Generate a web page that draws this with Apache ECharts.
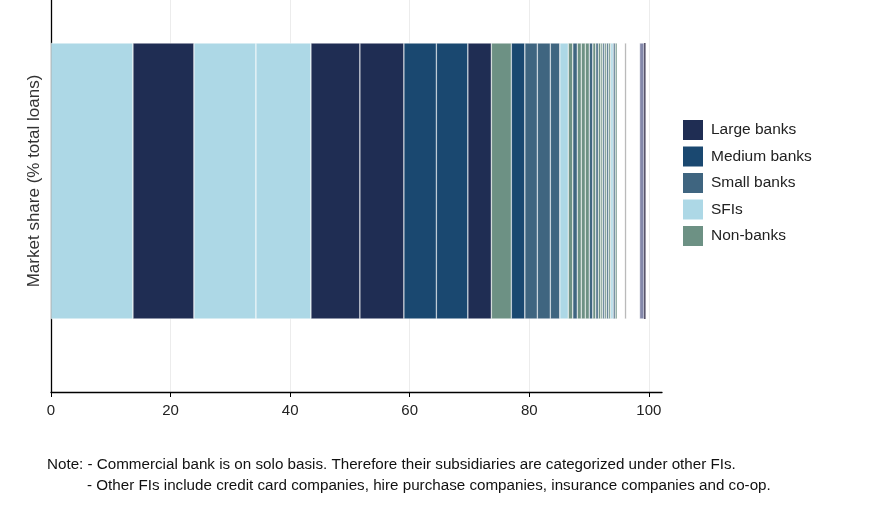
<!DOCTYPE html>
<html>
<head>
<meta charset="utf-8">
<script src="https://cdn.jsdelivr.net/npm/echarts@6/dist/echarts.min.js"></script>
<style>
html,body{margin:0;padding:0;background:#fff;}
#chart{width:888px;height:524px;}
</style>
</head>
<body>
<div id="chart"></div>
<script>
const categories = ['Market share'];
const legendNames = ['Large banks', 'Medium banks', 'Small banks', 'SFIs', 'Non-banks'];
const xTickLabels = [0, 20, 40, 60, 80, 100];
// Each institution, in order, with its type and market share (% of total loans)
const segmentTypes = [
  'SFIs', 'Large banks', 'SFIs', 'SFIs', 'Large banks', 'Large banks',
  'Medium banks', 'Medium banks', 'Large banks', 'Non-banks', 'Medium banks',
  'Small banks', 'Small banks', 'Small banks', 'SFIs', 'Non-banks', 'Small banks',
  'Non-banks', 'Non-banks', 'Non-banks', 'Small banks', 'Non-banks', 'Small banks',
  'Non-banks', 'Non-banks', 'Small banks', 'Non-banks', 'Small banks', 'Non-banks',
  'SFIs', 'Small banks', 'Non-banks',
  'Gap', 'Other', 'Gap', 'Other FIs', 'Other FIs 2'
];
const segmentValues = [
  13.71, 10.20, 10.37, 9.20, 8.19, 7.36,
  5.43, 5.27, 3.93, 3.34, 2.26,
  2.09, 2.17, 1.59, 1.42, 0.75, 0.75,
  0.67, 0.67, 0.67, 0.59, 0.50, 0.42,
  0.42, 0.33, 0.33, 0.33, 0.33, 0.33,
  0.42, 0.33, 0.33,
  1.25, 0.33, 2.17, 0.75, 0.25
];

const typeColors = {
  'Large banks': '#1f2d53',
  'Medium banks': '#1a4870',
  'Small banks': '#3f6580',
  'SFIs': '#add8e6',
  'Non-banks': '#6d9184',
  'Gap': '#ffffff',
  'Other': '#a9a9a9',
  'Other FIs': '#8488aa',
  'Other FIs 2': '#4e4a62'
};

const series = segmentValues.map((v, i) => {
  const t = segmentTypes[i];
  const isGap = t === 'Gap';
  return {
    name: t,
    type: 'bar',
    stack: 'total',
    barWidth: 276,
    data: [v],
    itemStyle: {
      color: typeColors[t],
      borderColor: '#ffffff',
      borderWidth: (isGap || t === 'Other FIs 2') ? 0 : 0.45
    },
    emphasis: { disabled: true },
    silent: true
  };
});

const chart = echarts.init(document.getElementById('chart'), null, { renderer: 'canvas' });
chart.setOption({
  animation: false,
  backgroundColor: '#ffffff',
  grid: { left: 51, right: 226, top: -30, bottom: 132, containLabel: false, outerBoundsMode: 'none' },
  legend: {
    data: legendNames,
    orient: 'vertical',
    left: 683,
    top: 120,
    padding: 0,
    itemWidth: 20,
    itemHeight: 20,
    itemGap: 6.5,
    icon: 'rect',
    itemStyle: { borderWidth: 0 },
    textStyle: { fontFamily: 'Liberation Sans, Arial, sans-serif', fontSize: 15.5, color: '#222', padding: [0, 0, 0, 3] }
  },
  xAxis: {
    type: 'value',
    min: 0,
    max: 102.2,
    interval: 20,
    axisLine: { show: true, lineStyle: { color: '#000', width: 1.3 } },
    axisTick: { show: true, length: 5, lineStyle: { color: '#000' }, customValues: xTickLabels },
    axisLabel: {
      customValues: xTickLabels,
      fontFamily: 'Liberation Sans, Arial, sans-serif',
      fontSize: 15,
      color: '#222',
      margin: 11
    },
    splitLine: { show: true, lineStyle: { color: '#ececec', width: 1 } }
  },
  yAxis: {
    type: 'category',
    data: categories,
    name: 'Market share (% total loans)',
    nameLocation: 'middle',
    nameGap: 8.5,
    nameTextStyle: { fontFamily: 'Liberation Sans, Arial, sans-serif', fontSize: 17, color: '#333' },
    axisLine: { show: true, lineStyle: { color: '#000', width: 1.3 } },
    axisTick: { show: false },
    axisLabel: { show: false },
    splitLine: { show: false }
  },
  graphic: [
    {
      type: 'text', left: 47, top: 457,
      style: {
        text: 'Note: - Commercial bank is on solo basis. Therefore their subsidiaries are categorized under other FIs.',
        font: '15.2px "Liberation Sans", Arial, sans-serif', fill: '#111'
      }
    },
    {
      type: 'text', left: 87, top: 478,
      style: {
        text: '- Other FIs include credit card companies, hire purchase companies, insurance companies and co-op.',
        font: '15.2px "Liberation Sans", Arial, sans-serif', fill: '#111'
      }
    }
  ],
  series: series
});
</script>
</body>
</html>
